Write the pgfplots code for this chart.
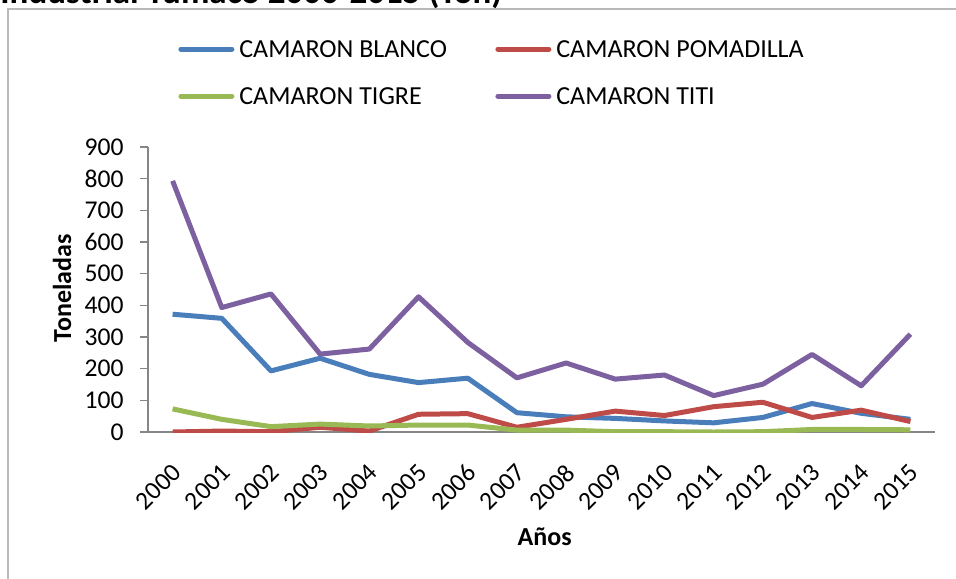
\documentclass[border=0pt]{standalone}
\usepackage{fontspec}
\setmainfont{Carlito}
\usepackage{pgfplots}
\pgfplotsset{compat=1.18}
\usepackage{pgfplotstable}
\definecolor{cblue}{HTML}{4A7EBB}
\definecolor{cred}{HTML}{BE4B48}
\definecolor{cgreen}{HTML}{98B954}
\definecolor{cpurple}{HTML}{7D60A0}
\definecolor{axisgray}{HTML}{868686}

% Toneladas por especie
\pgfplotstableread{
year blanco pomadilla tigre titi
2000 372 0 73 793
2001 359 3 40 393
2002 193 1 17 436
2003 233 15 25 246
2004 182 3 19 262
2005 156 56 22 427
2006 170 58 22 283
2007 61 15 6 171
2008 48 40 6 218
2009 43 66 1 167
2010 35 52 1 180
2011 29 80 0 115
2012 46 94 1 151
2013 90 46 8 245
2014 59 69 8 146
2015 40 33 7 309
}\camaron

\begin{document}
\begin{tikzpicture}
\useasboundingbox (0pt,0pt) rectangle (478pt,-289pt);
% title, cut off at the top as in the source
\node[anchor=base west, inner sep=0pt, font=\bfseries\fontsize{17.5pt}{20pt}\selectfont]
  at (0pt,-1.8pt) {Industrial Tumaco 2000-2015 (Ton)};
\draw[gray!55, line width=1pt] (4pt,-295pt) -- (4pt,-4.5pt) -- (485pt,-4.5pt);
\begin{axis}[
  at={(74pt,-216pt)}, anchor=south west,
  width=393.5pt, height=142.5pt, scale only axis,
  xmin=1999.5, xmax=2015.5,
  ymin=0, ymax=900,
  axis x line*=bottom, axis y line*=left,
  axis line style={axisgray, line width=0.75pt},
  xtick={2000,...,2015},
  ytick={0,100,...,900},
  xtick style={draw=none},
  ytick style={axisgray, line width=0.75pt},
  tick align=outside,
  major tick length=4pt,
  /pgf/number format/assume math mode=true,
  /pgf/number format/1000 sep={},
  tick label style={font=\fontsize{12.8pt}{15pt}\selectfont},
  xticklabel style={xshift=-1pt, yshift=-11pt, rotate=45, anchor=north east, inner sep=0pt},
  yticklabel style={anchor=east, inner sep=0pt, xshift=-8pt},
  xlabel={Años},
  ylabel={Toneladas},
  every axis x label/.style={at={(axis description cs:0.504,-0.368)}, anchor=center,
    font=\bfseries\fontsize{13pt}{15pt}\selectfont},
  every axis y label/.style={at={(axis description cs:-0.1093,0.505)}, rotate=90, anchor=center,
    font=\bfseries\fontsize{13pt}{15pt}\selectfont},
  legend columns=2,
  legend cell align=left,
  legend style={draw=none, fill=none, at={(axis description cs:0.0381,1.375)},
    anchor=north west, font=\fontsize{13pt}{15pt}\selectfont,
    column sep=2.5pt, row sep=15pt, inner sep=0pt,
    nodes={inner sep=0pt, text height=8.5pt, text depth=0pt}},
  legend image code/.code={\draw[#1, line cap=round] (0pt,0pt) -- (25.5pt,0pt);},
  every axis plot/.append style={line width=2.5pt, line join=round, no markers},
]
\addplot[cblue] table[x=year, y=blanco] {\camaron};
\addlegendentry{\makebox[125.5pt][l]{CAMARON BLANCO}}
\addplot[cred] table[x=year, y=pomadilla] {\camaron};
\addlegendentry{CAMARON POMADILLA}
\addplot[cgreen] table[x=year, y=tigre] {\camaron};
\addlegendentry{\makebox[125.5pt][l]{CAMARON TIGRE}}
\addplot[cpurple] table[x=year, y=titi] {\camaron};
\addlegendentry{CAMARON TITI}
\end{axis}
\end{tikzpicture}
\end{document}
